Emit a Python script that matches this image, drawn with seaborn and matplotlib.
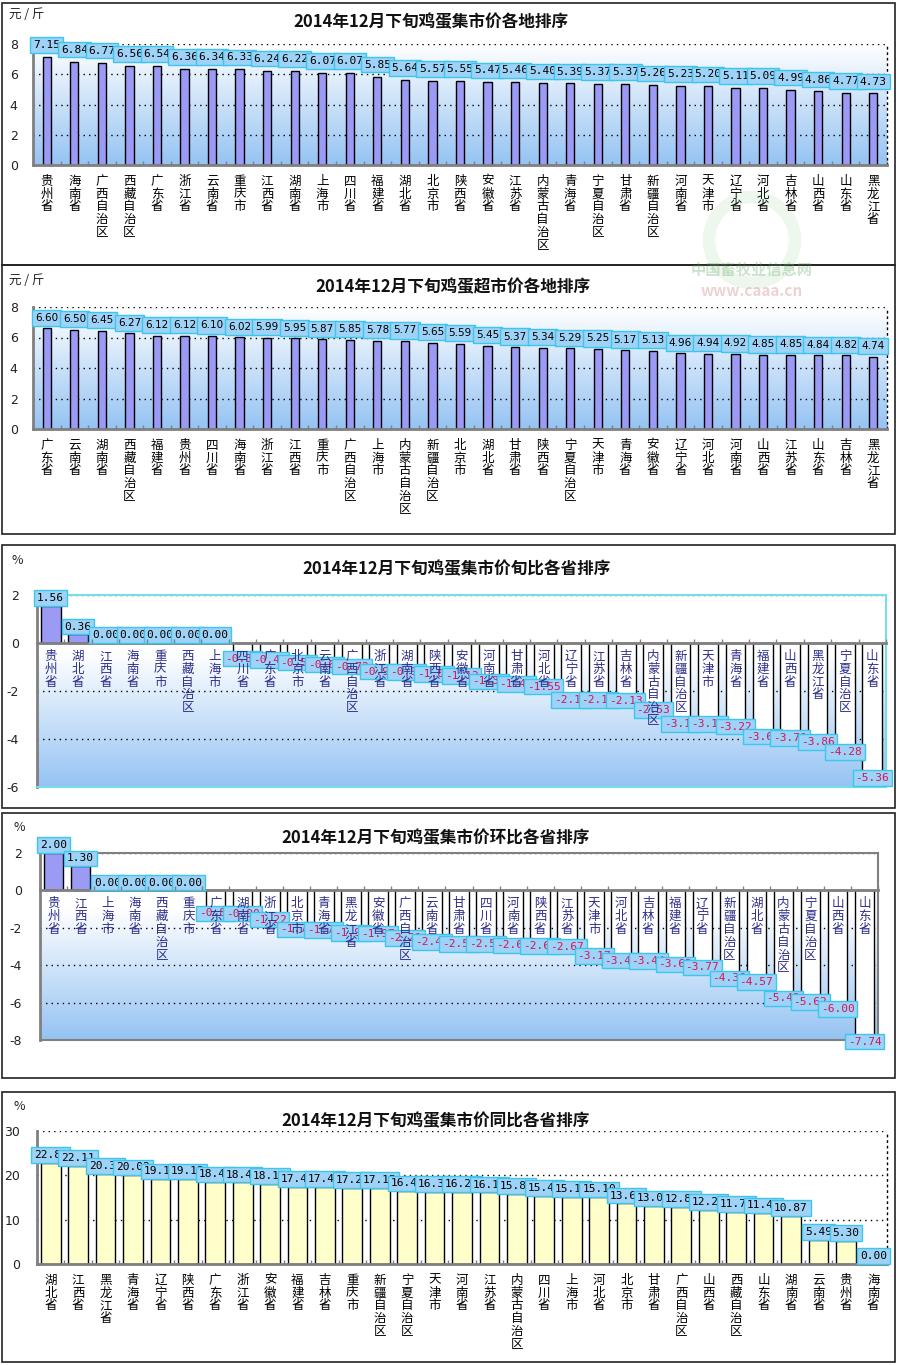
import numpy as np
import pandas as pd
import matplotlib
matplotlib.use('Agg')
import matplotlib.pyplot as plt
import seaborn as sns
from matplotlib.patches import Rectangle, Ellipse
from matplotlib.colors import LinearSegmentedColormap

sns.set_theme(style='white')
plt.rcParams['font.family'] = ['Noto Sans CJK SC', 'DejaVu Sans']
plt.rcParams['axes.unicode_minus'] = False

# ---------------- data ----------------
p1_title = '2014年12月下旬鸡蛋集市价各地排序'
p1_cats = ['贵州省', '海南省', '广西自治区', '西藏自治区', '广东省', '浙江省', '云南省', '重庆市',
           '江西省', '湖南省', '上海市', '四川省', '福建省', '湖北省', '北京市', '陕西省', '安徽省',
           '江苏省', '内蒙古自治区', '青海省', '宁夏自治区', '甘肃省', '新疆自治区', '河南省', '天津市',
           '辽宁省', '河北省', '吉林省', '山西省', '山东省', '黑龙江省']
p1_vals = [7.15, 6.84, 6.77, 6.56, 6.54, 6.36, 6.34, 6.33, 6.24, 6.22, 6.07, 6.07, 5.85, 5.64,
           5.57, 5.55, 5.47, 5.46, 5.40, 5.39, 5.37, 5.37, 5.26, 5.23, 5.20, 5.11, 5.09, 4.99,
           4.86, 4.77, 4.73]

p2_title = '2014年12月下旬鸡蛋超市价各地排序'
p2_cats = ['广东省', '云南省', '湖南省', '西藏自治区', '福建省', '贵州省', '四川省', '海南省', '浙江省',
           '江西省', '重庆市', '广西自治区', '上海市', '内蒙古自治区', '新疆自治区', '北京市', '湖北省',
           '甘肃省', '陕西省', '宁夏自治区', '天津市', '青海省', '安徽省', '辽宁省', '河北省', '河南省',
           '山西省', '江苏省', '山东省', '吉林省', '黑龙江省']
p2_vals = [6.60, 6.50, 6.45, 6.27, 6.12, 6.12, 6.10, 6.02, 5.99, 5.95, 5.87, 5.85, 5.78, 5.77,
           5.65, 5.59, 5.45, 5.37, 5.34, 5.29, 5.25, 5.17, 5.13, 4.96, 4.94, 4.92, 4.85, 4.85,
           4.84, 4.82, 4.74]

p3_title = '2014年12月下旬鸡蛋集市价旬比各省排序'
p3_cats = ['贵州省', '湖北省', '江西省', '海南省', '重庆市', '西藏自治区', '上海市', '四川省', '广东省',
           '北京市', '云南省', '广西自治区', '浙江省', '湖南省', '陕西省', '安徽省', '河南省', '甘肃省',
           '河北省', '辽宁省', '江苏省', '吉林省', '内蒙古自治区', '新疆自治区', '天津市', '青海省',
           '福建省', '山西省', '黑龙江省', '宁夏自治区', '山东省']
p3_vals = [1.56, 0.36, 0.00, 0.00, 0.00, 0.00, 0.00, -0.38, -0.45, -0.55, -0.63, -0.72, -0.93,
           -0.95, -1.03, -1.12, -1.33, -1.45, -1.55, -2.10, -2.11, -2.13, -2.53, -3.10, -3.12,
           -3.22, -3.63, -3.70, -3.86, -4.28, -5.36]

p4_title = '2014年12月下旬鸡蛋集市价环比各省排序'
p4_cats = ['贵州省', '江西省', '上海市', '海南省', '西藏自治区', '重庆市', '广东省', '湖南省', '浙江省',
           '北京市', '青海省', '黑龙江省', '安徽省', '广西自治区', '云南省', '甘肃省', '四川省', '河南省',
           '陕西省', '江苏省', '天津市', '河北省', '吉林省', '福建省', '辽宁省', '新疆自治区', '湖北省',
           '内蒙古自治区', '宁夏自治区', '山西省', '山东省']
p4_vals = [2.00, 1.30, 0.00, 0.00, 0.00, 0.00, -0.89, -0.90, -1.22, -1.74, -1.78, -1.93, -1.97,
           -2.21, -2.41, -2.51, -2.53, -2.60, -2.62, -2.67, -3.17, -3.41, -3.44, -3.62, -3.77,
           -4.36, -4.57, -5.43, -5.62, -6.00, -7.74]

p5_title = '2014年12月下旬鸡蛋集市价同比各省排序'
p5_cats = ['湖北省', '江西省', '黑龙江省', '青海省', '辽宁省', '陕西省', '广东省', '浙江省', '安徽省',
           '福建省', '吉林省', '重庆市', '新疆自治区', '宁夏自治区', '天津市', '河南省', '江苏省',
           '内蒙古自治区', '四川省', '上海市', '河北省', '北京市', '甘肃省', '广西自治区', '山西省',
           '西藏自治区', '山东省', '湖南省', '云南省', '贵州省', '海南省']
p5_vals = [22.85, 22.11, 20.36, 20.02, 19.15, 19.12, 18.45, 18.42, 18.15, 17.45, 17.42, 17.22,
           17.15, 16.45, 16.35, 16.25, 16.15, 15.85, 15.45, 15.15, 15.10, 13.65, 13.05, 12.85,
           12.25, 11.75, 11.45, 10.87, 5.49, 5.30, 0.00]

# ---------------- figure ----------------
W, H = 900, 1365
fig = plt.figure(figsize=(9, 13.65), dpi=100)
fig.patch.set_facecolor('white')

BOX_FC = '#9ed2f6'
BOX_EC = '#3cc6ec'
NEG_TXT = '#d4145a'
GREY = '#808080'
DOT = (0, (1, 3))


def frame(t, b, l=2, r=895):
    fig.patches.append(Rectangle((l / W, 1 - b / H), (r - l) / W, (b - t) / H,
                                 transform=fig.transFigure, fill=False,
                                 edgecolor='#222222', lw=1.2, zorder=0))


def make_ax(l, t, r, b):
    return fig.add_axes([l / W, 1 - b / H, (r - l) / W, (b - t) / H])


def gradient(ax, start):
    cmap = LinearSegmentedColormap.from_list(
        'bg', [(0, '#ffffff'), (start, '#ffffff'), (1, '#95c3f3')])
    grad = np.linspace(0, 1, 256).reshape(-1, 1)
    ax.imshow(grad, cmap=cmap, aspect='auto', extent=(0, 1, 0, 1),
              transform=ax.transAxes, zorder=0, interpolation='bilinear')


def draw_bars(ax, cats, vals, width, pos_color, neg_color='white'):
    df = pd.DataFrame({'cat': cats, 'val': vals,
                       'sign': ['pos' if v >= 0 else 'neg' for v in vals]})
    pal = {'pos': pos_color, 'neg': neg_color}
    pal = {k: pal[k] for k in df['sign'].unique()}
    sns.barplot(data=df, x='cat', y='val', hue='sign', palette=pal, dodge=False,
                width=width, edgecolor='black', linewidth=1.0, legend=False,
                saturation=1, errorbar=None, ax=ax, zorder=2)


def value_labels(ax, vals, family, size, pos_off, neg_off, pad=0.25):
    for i, v in enumerate(vals):
        if v >= 0:
            off, va, col = pos_off, 'bottom', 'black'
        else:
            off, va, col = -neg_off, 'top', NEG_TXT
        ax.annotate(f'{v:.2f}', xy=(i, v), xytext=(0, off), textcoords='offset points',
                    ha='center', va=va, fontsize=size, family=family, color=col,
                    zorder=4 + i * 0.01, annotation_clip=False,
                    bbox=dict(boxstyle=f'square,pad={pad}', fc=BOX_FC, ec=BOX_EC, lw=1))


def common_axis(ax, cats, ylim, yticks, tick_color, ypad, label_pad, zero_spine=False):
    n = len(cats)
    if zero_spine:
        ax.spines['bottom'].set_position(('data', 0))
    ax.set_xlim(-0.5, n - 0.5)
    ax.set_ylim(*ylim)
    ax.set_yticks(yticks)
    ax.set_yticklabels([str(t) for t in yticks])
    ax.set_xticks(range(n))
    ax.set_xticklabels(['\n'.join(c) for c in cats], fontsize=9, linespacing=0.98,
                       color=tick_color, va='top')
    ax.set_xticks(np.arange(-0.5, n, 1), minor=True)
    ax.tick_params(axis='x', which='major', length=0, pad=label_pad)
    ax.tick_params(axis='x', which='minor', direction='in', length=3, color=GREY,
                   width=1, bottom=True)
    ax.tick_params(axis='y', length=0, pad=ypad, labelsize=9, labelcolor='#222222')
    for lab in ax.get_yticklabels():
        lab.set_family(['DejaVu Sans'])
    ax.set_xlabel('')
    ax.set_ylabel('')
    ax.yaxis.grid(True, linestyle=DOT, color='black', lw=1)
    ax.xaxis.grid(False)
    ax.set_axisbelow(True)
    ax.spines['left'].set_color(GREY)
    ax.spines['left'].set_linewidth(2)
    ax.spines['bottom'].set_color(GREY)
    ax.spines['bottom'].set_linewidth(2)


def title(text, cx, cy):
    fig.text(cx / W, 1 - cy / H, text, ha='center', va='center', fontsize=12,
             fontweight='bold', color='#111111')


def unit(text, x, y):
    fig.text(x / W, 1 - y / H, text, ha='left', va='center', fontsize=9, color='#222222')


# panel frames
frame(3, 265)
frame(265, 534)
frame(545, 808)
frame(813, 1078)
frame(1092, 1362)

# ---------- Panel 1 ----------
ax1 = make_ax(33, 44, 887, 165)
gradient(ax1, 0.0)
draw_bars(ax1, p1_cats, p1_vals, 0.3, '#9b9bf5')
common_axis(ax1, p1_cats, (0, 8), [0, 2, 4, 6, 8], 'black', 11, 7)
ax1.spines['top'].set_visible(False)
ax1.spines['right'].set_linestyle(DOT)
ax1.spines['right'].set_color('black')
ax1.spines['right'].set_linewidth(1)
value_labels(ax1, p1_vals, 'DejaVu Sans Mono', 8, 5, 3)
title(p1_title, 431, 22)
unit('元 / 斤', 9, 14)

# ---------- Panel 2 ----------
ax2 = make_ax(33, 307, 887, 429)
gradient(ax2, 0.0)
draw_bars(ax2, p2_cats, p2_vals, 0.3, '#9b9bf5')
common_axis(ax2, p2_cats, (0, 8), [0, 2, 4, 6, 8], 'black', 11, 7)
ax2.spines['top'].set_visible(False)
ax2.spines['right'].set_linestyle(DOT)
ax2.spines['right'].set_color('black')
ax2.spines['right'].set_linewidth(1)
value_labels(ax2, p2_vals, 'DejaVu Sans', 7.5, 4, 3, pad=0.3)
title(p2_title, 453, 287)
unit('元 / 斤', 9, 281)

# ---------- Panel 3 ----------
ax3 = make_ax(37, 595, 886, 787)
gradient(ax3, 0.3)
draw_bars(ax3, p3_cats, p3_vals, 0.72, '#9b9bf5', 'white')
common_axis(ax3, p3_cats, (-6, 2), [-6, -4, -2, 0, 2], '#2e2e8a', 13, 5, zero_spine=True)
for s in ['top', 'right']:
    ax3.spines[s].set_color('#74dfe6')
    ax3.spines[s].set_linewidth(1.5)
ax3.plot([0, 1], [0, 0], transform=ax3.transAxes, color='#74dfe6', lw=1.5,
         clip_on=False, zorder=3)
value_labels(ax3, p3_vals, 'DejaVu Sans Mono', 8, 2, 1)
ax3.xaxis.set_zorder(6)
title(p3_title, 457, 569)
unit('%', 12, 560)

# ---------- Panel 4 ----------
ax4 = make_ax(40, 853, 878, 1040)
gradient(ax4, 0.3)
draw_bars(ax4, p4_cats, p4_vals, 0.72, '#9b9bf5', 'white')
common_axis(ax4, p4_cats, (-8, 2), [-8, -6, -4, -2, 0, 2], '#2e2e8a', 13, 5, zero_spine=True)
for s in ['top', 'right']:
    ax4.spines[s].set_color(GREY)
    ax4.spines[s].set_linewidth(1.5)
ax4.plot([0, 1], [0, 0], transform=ax4.transAxes, color=GREY, lw=1.5,
         clip_on=False, zorder=3)
value_labels(ax4, p4_vals, 'DejaVu Sans Mono', 8, 2, 1)
ax4.xaxis.set_zorder(6)
title(p4_title, 436, 838)
unit('%', 14, 828)

# ---------- Panel 5 ----------
ax5 = make_ax(37, 1131, 887, 1264)
ax5.set_facecolor('white')
draw_bars(ax5, p5_cats, p5_vals, 0.72, '#ffffcc')
common_axis(ax5, p5_cats, (0, 30), [0, 10, 20, 30], 'black', 12, 7)
ax5.spines['top'].set_visible(False)
ax5.spines['right'].set_linestyle(DOT)
ax5.spines['right'].set_color('black')
ax5.spines['right'].set_linewidth(1)
value_labels(ax5, p5_vals, 'DejaVu Sans Mono', 8, 2, 1)
title(p5_title, 436, 1121)
unit('%', 14, 1107)

# watermark
fig.patches.append(Ellipse((752 / W, 1 - 240 / H), 86 / W, 86 / H, transform=fig.transFigure,
                           fill=False, edgecolor='#6cbf6c', lw=9, alpha=0.12, zorder=10))
fig.text(752 / W, 1 - 270 / H, '中国畜牧业信息网', ha='center', va='center', fontsize=11,
         color='#5aa05a', alpha=0.3, fontweight='bold')
fig.text(752 / W, 1 - 291 / H, 'www.caaa.cn', ha='center', va='center', fontsize=11,
         color='#d08080', alpha=0.35, fontweight='bold')

fig.savefig('out.png', dpi=100, facecolor='white')
